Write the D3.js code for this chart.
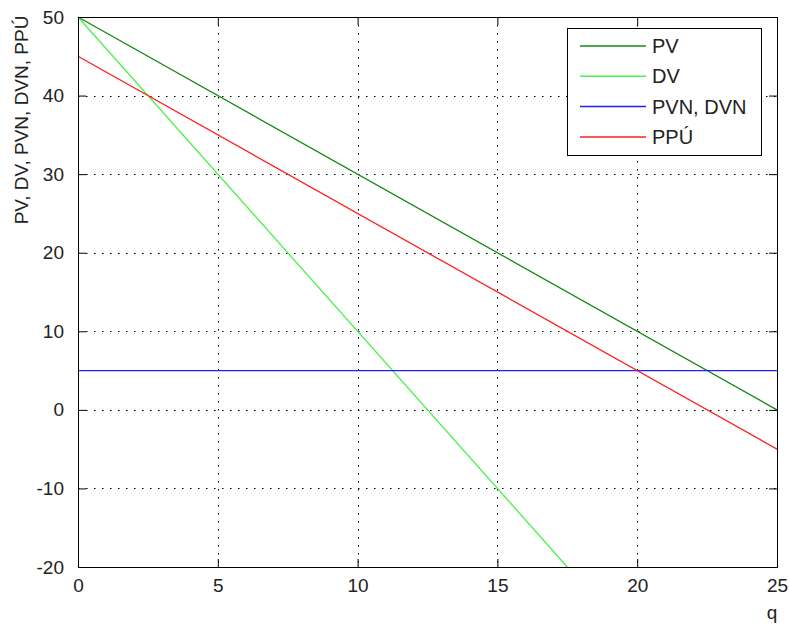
<!DOCTYPE html>
<html>
<head>
<meta charset="utf-8">
<script src="https://cdn.jsdelivr.net/npm/d3@7.9.0/dist/d3.min.js"></script>
<style>
  body { margin: 0; background: #fff; }
  svg { display: block; font-family: "Liberation Sans", Arial, sans-serif; }
</style>
</head>
<body>
<div id="chart"></div>
<script>
// data (straight lines at their end points)
const qFull = [0, 25];
const qDv = [0, 17.5];
const pv = [50, 0];
const dv = [50, -20];
const pvn = [5, 5];
const ppu = [45, -5];

const xTicks = [0, 5, 10, 15, 20, 25];
const yTicks = [-20, -10, 0, 10, 20, 30, 40, 50];

const series = [
  { name: "PV", q: qFull, v: pv, color: "#128a12" },
  { name: "DV", q: qDv, v: dv, color: "#4cf04c" },
  { name: "PVN, DVN", q: qFull, v: pvn, color: "#2020ff" },
  { name: "PPÚ", q: qFull, v: ppu, color: "#ff2020" }
];

// config
const width = 790,
  height = 629;
const mLeft = 78, mRight = 777, mTop = 17, mBottom = 567;

const svg = d3
  .select("#chart")
  .append("svg")
  .attr("width", width)
  .attr("height", height);

const x = d3.scaleLinear().domain([0, 25]).range([mLeft, mRight]);
const y = d3.scaleLinear().domain([-20, 50]).range([mBottom, mTop]);

// grid
const grid = svg.append("g")
  .attr("stroke", "#000")
  .attr("stroke-width", 1)
  .attr("stroke-dasharray", "1.5,6.5");
grid.selectAll(".gx")
  .data(xTicks.slice(1, -1))
  .join("line")
  .attr("class", "gx")
  .attr("x1", (d) => Math.round(x(d)) + 0.5)
  .attr("x2", (d) => Math.round(x(d)) + 0.5)
  .attr("y1", mTop)
  .attr("y2", mBottom);
grid.selectAll(".gy")
  .data(yTicks.slice(1, -1))
  .join("line")
  .attr("class", "gy")
  .attr("y1", (d) => Math.round(y(d)) + 0.5)
  .attr("y2", (d) => Math.round(y(d)) + 0.5)
  .attr("x1", mLeft)
  .attr("x2", mRight);

// lines
const line = d3.line()
  .x((d) => x(d[0]))
  .y((d) => y(d[1]));

svg.append("g")
  .selectAll("path")
  .data(series)
  .join("path")
  .attr("fill", "none")
  .attr("stroke", (d) => d.color)
  .attr("stroke-width", 1.3)
  .attr("d", (d) => line(d.q.map((qq, i) => [qq, d.v[i]])));

// axes, ticks inward on all four sides (plain hyphen for negatives)
const tickLen = 8;
const fmt = (d) => String(d);
const axBottom = d3.axisBottom(x).tickValues(xTicks).tickFormat(fmt).tickSize(-tickLen).tickPadding(tickLen + 4);
const axLeft = d3.axisLeft(y).tickValues(yTicks).tickFormat(fmt).tickSize(-tickLen).tickPadding(tickLen + 6);
const axTop = d3.axisTop(x).tickValues(xTicks).tickSize(-tickLen).tickFormat("");
const axRight = d3.axisRight(y).tickValues(yTicks).tickSize(-tickLen).tickFormat("");

function style(g) {
  g.select(".domain").remove();
  g.selectAll("line").attr("stroke", "#000");
  g.selectAll("text").attr("fill", "#222").style("font-size", "19px");
}

svg.append("g").attr("transform", `translate(0,${mBottom})`).call(axBottom).call(style);
svg.append("g").attr("transform", `translate(${mLeft},0)`).call(axLeft).call(style);
svg.append("g").attr("transform", `translate(0,${mTop})`).call(axTop).call(style);
svg.append("g").attr("transform", `translate(${mRight},0)`).call(axRight).call(style);

// frame
svg.append("rect")
  .attr("x", mLeft + 0.5)
  .attr("y", mTop + 0.5)
  .attr("width", mRight - mLeft)
  .attr("height", mBottom - mTop)
  .attr("fill", "none")
  .attr("stroke", "#000")
  .attr("stroke-width", 1);

// axis labels
svg.append("text")
  .attr("x", 772)
  .attr("y", 619)
  .attr("text-anchor", "middle")
  .attr("fill", "#222")
  .style("font-size", "19px")
  .text("q");

svg.append("text")
  .attr("transform", "translate(28,120) rotate(-90)")
  .attr("text-anchor", "middle")
  .attr("fill", "#222")
  .style("font-size", "19px")
  .text("PV, DV, PVN, DVN, PPÚ");

// legend
const lg = svg.append("g");
lg.append("rect")
  .attr("x", 567.5)
  .attr("y", 28.5)
  .attr("width", 194)
  .attr("height", 127)
  .attr("fill", "#fff")
  .attr("stroke", "#000");

const items = lg.selectAll(".item")
  .data(series)
  .join("g")
  .attr("class", "item")
  .attr("transform", (d, i) => `translate(0,${46 + i * 30.3})`);
items.append("line")
  .attr("x1", 580)
  .attr("x2", 646)
  .attr("stroke", (d) => d.color)
  .attr("stroke-width", 1.5);
items.append("text")
  .attr("x", 652)
  .attr("y", 7)
  .attr("fill", "#222")
  .style("font-size", "20px")
  .text((d) => d.name);
</script>
</body>
</html>
